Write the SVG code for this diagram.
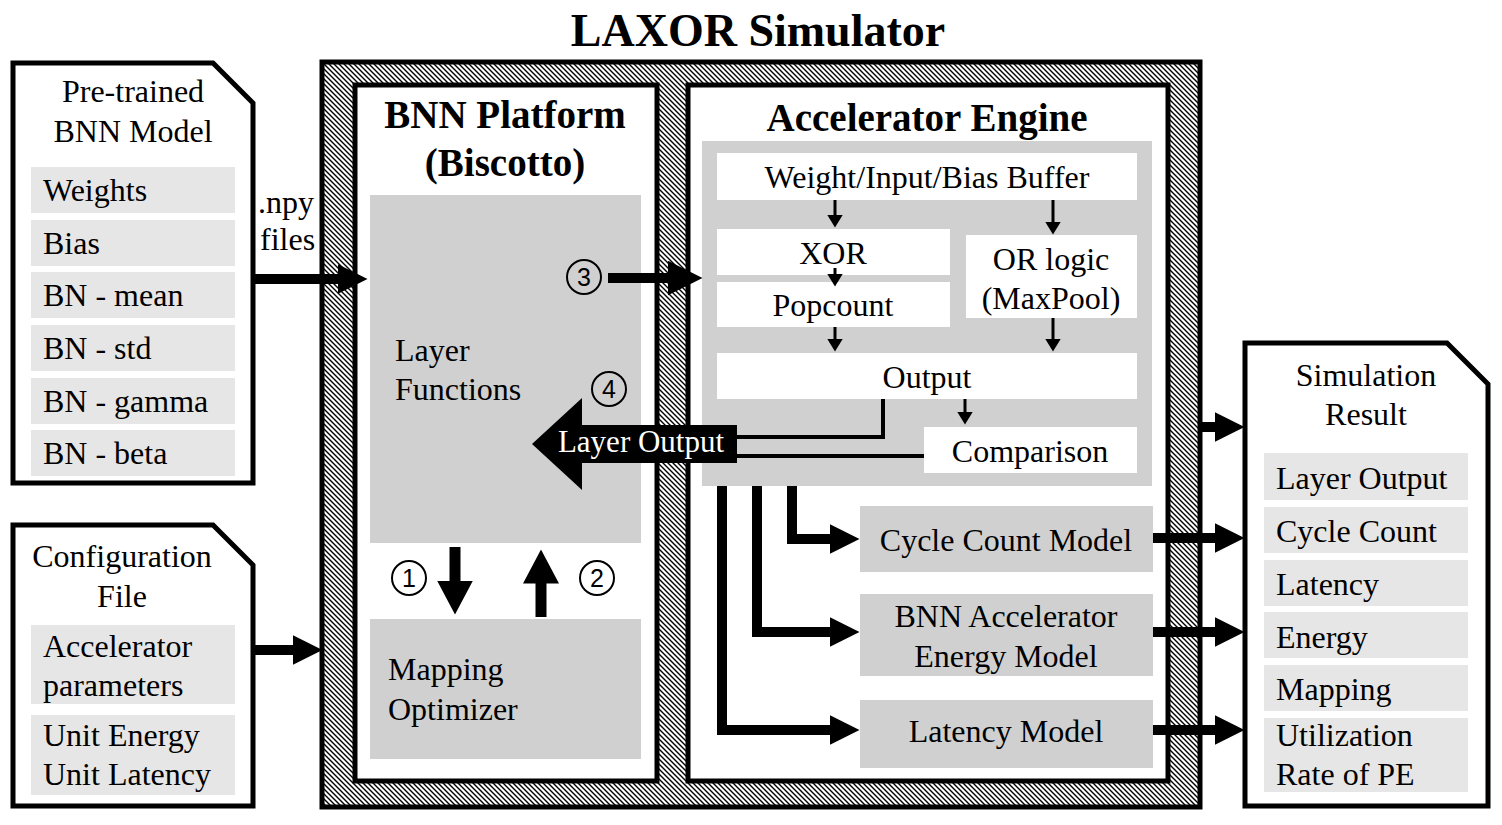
<svg xmlns="http://www.w3.org/2000/svg" width="1502" height="825" viewBox="0 0 1502 825">
<defs>
<pattern id="hatch" patternUnits="userSpaceOnUse" width="5" height="5">
<rect width="5" height="5" fill="#fff"/>
<path d="M-1,4 L1,6 M-1,-1 L6,6 M4,-1 L6,1" stroke="#000" stroke-width="1.4"/>
</pattern>
<marker id="ah" viewBox="0 0 30 30" markerWidth="30" markerHeight="30" refX="0.5" refY="15" orient="auto" markerUnits="userSpaceOnUse"><path d="M0,0 L30,15 L0,30 z" fill="#000"/></marker>
<marker id="ahL" viewBox="0 0 35 35" markerWidth="35" markerHeight="35" refX="0.5" refY="17.5" orient="auto" markerUnits="userSpaceOnUse"><path d="M0,0 L35,17.5 L0,35 z" fill="#000"/></marker>
<marker id="ahm" viewBox="0 0 34 36" markerWidth="34" markerHeight="36" refX="0.5" refY="18" orient="auto" markerUnits="userSpaceOnUse"><path d="M0,0 L34,18 L0,36 z" fill="#000"/></marker>
<marker id="ahs" viewBox="0 0 13 16" markerWidth="13" markerHeight="16" refX="0.5" refY="8" orient="auto" markerUnits="userSpaceOnUse"><path d="M0,0 L13,8 L0,16 z" fill="#000"/></marker>
</defs>
<style>
text{font-family:"Liberation Serif","Times New Roman",serif;fill:#000}
.t{font-size:32px}
.b{font-size:39px;font-weight:bold}
.c{text-anchor:middle}
.doc{fill:#fff;stroke:#000;stroke-width:5}
.row{fill:#e6e6e6}
.gb{fill:#d0d0d0}
.wb{fill:#fff}
.num{font-family:"Liberation Sans",Arial,sans-serif;font-size:25px;text-anchor:middle}
.circ{fill:none;stroke:#000;stroke-width:2}
.big{fill:none;stroke:#000;stroke-width:10}
.sm{fill:none;stroke:#000;stroke-width:3}
.ln{fill:none;stroke:#000;stroke-width:4}
</style>

<text x="758" y="46" class="c" style="font-size:46px;font-weight:bold">LAXOR Simulator</text>

<g id="simulator-frame">
<rect x="322" y="62" width="878" height="745" fill="url(#hatch)" stroke="#000" stroke-width="5"/>
</g>

<g id="bnn-platform">
<rect x="355" y="85" width="302" height="696" fill="#fff" stroke="#000" stroke-width="5"/>
<text x="505" y="128" class="b c">BNN Platform</text>
<text x="505" y="176" class="b c">(Biscotto)</text>
</g>

<g id="layer-functions">
<rect x="370" y="195" width="271" height="348" class="gb"/>
<text x="395" y="361" class="t">Layer</text>
<text x="395" y="400" class="t">Functions</text>
</g>

<g id="mapping-optimizer">
<rect x="370" y="619" width="271" height="140" class="gb"/>
<text x="388" y="680" class="t">Mapping</text>
<text x="388" y="720" class="t">Optimizer</text>
</g>

<g id="accelerator-engine">
<rect x="688" y="85" width="480" height="696" fill="#fff" stroke="#000" stroke-width="5"/>
<text x="927" y="131" class="b c">Accelerator Engine</text>
<rect x="702" y="141" width="450" height="345" class="gb"/>
</g>

<g id="buffer">
<rect x="717" y="153" width="420" height="47" class="wb"/>
<text x="927" y="188" class="t c">Weight/Input/Bias Buffer</text>
</g>
<g id="xor">
<rect x="717" y="229" width="233" height="46" class="wb"/>
<text x="833" y="264" class="t c">XOR</text>
</g>
<g id="popcount">
<rect x="717" y="282" width="233" height="45" class="wb"/>
<text x="833" y="316" class="t c">Popcount</text>
</g>
<g id="or-logic">
<rect x="966" y="235" width="171" height="83" class="wb"/>
<text x="1051" y="270" class="t c">OR logic</text>
<text x="1051" y="309" class="t c">(MaxPool)</text>
</g>
<g id="output">
<rect x="717" y="353" width="420" height="46" class="wb"/>
<text x="927" y="388" class="t c">Output</text>
</g>
<g id="comparison">
<rect x="924" y="427" width="213" height="46" class="wb"/>
<text x="1030" y="462" class="t c">Comparison</text>
</g>

<g id="cycle-count-model">
<rect x="860" y="506" width="293" height="66" class="gb"/>
<text x="1006" y="551" class="t c">Cycle Count Model</text>
</g>
<g id="energy-model">
<rect x="860" y="594" width="293" height="82" class="gb"/>
<text x="1006" y="627" class="t c">BNN Accelerator</text>
<text x="1006" y="667" class="t c">Energy Model</text>
</g>
<g id="latency-model">
<rect x="860" y="700" width="293" height="68" class="gb"/>
<text x="1006" y="742" class="t c">Latency Model</text>
</g>

<g id="pretrained-model">
<polygon points="13,63 213,63 253,103 253,483 13,483" class="doc"/>
<text x="133" y="102" class="t c">Pre-trained</text>
<text x="133" y="142" class="t c">BNN Model</text>
<rect x="31" y="167" width="204" height="46" class="row"/>
<rect x="31" y="220" width="204" height="46" class="row"/>
<rect x="31" y="272" width="204" height="46" class="row"/>
<rect x="31" y="325" width="204" height="46" class="row"/>
<rect x="31" y="378" width="204" height="46" class="row"/>
<rect x="31" y="430" width="204" height="46" class="row"/>
<text x="43" y="201" class="t">Weights</text>
<text x="43" y="254" class="t">Bias</text>
<text x="43" y="306" class="t">BN - mean</text>
<text x="43" y="359" class="t">BN - std</text>
<text x="43" y="412" class="t">BN - gamma</text>
<text x="43" y="464" class="t">BN - beta</text>
</g>

<g id="configuration-file">
<polygon points="13,525 213,525 253,565 253,806 13,806" class="doc"/>
<text x="122" y="567" class="t c">Configuration</text>
<text x="122" y="607" class="t c">File</text>
<rect x="31" y="625" width="204" height="79" class="row"/>
<rect x="31" y="715" width="204" height="80" class="row"/>
<text x="43" y="657" class="t">Accelerator</text>
<text x="43" y="696" class="t">parameters</text>
<text x="43" y="746" class="t">Unit Energy</text>
<text x="43" y="785" class="t">Unit Latency</text>
</g>

<g id="simulation-result">
<polygon points="1245,343 1447,343 1488,384 1488,806 1245,806" class="doc"/>
<text x="1366" y="386" class="t c">Simulation</text>
<text x="1366" y="425" class="t c">Result</text>
<rect x="1264" y="453" width="204" height="47" class="row"/>
<rect x="1264" y="507" width="204" height="46" class="row"/>
<rect x="1264" y="560" width="204" height="46" class="row"/>
<rect x="1264" y="612" width="204" height="46" class="row"/>
<rect x="1264" y="665" width="204" height="46" class="row"/>
<rect x="1264" y="718" width="204" height="74" class="row"/>
<text x="1276" y="489" class="t">Layer Output</text>
<text x="1276" y="542" class="t">Cycle Count</text>
<text x="1276" y="595" class="t">Latency</text>
<text x="1276" y="648" class="t">Energy</text>
<text x="1276" y="700" class="t">Mapping</text>
<text x="1276" y="746" class="t">Utilization</text>
<text x="1276" y="785" class="t">Rate of PE</text>
</g>

<g id="connectors">
<text x="258" y="213" class="t">.npy</text>
<text x="260" y="250" class="t">files</text>
<path d="M253,279 H338" class="big" marker-end="url(#ah)"/>
<path d="M253,650 H293" class="big" marker-end="url(#ah)"/>
<path d="M608,278 H668" class="big" marker-end="url(#ahL)"/>
<path d="M455,547 V581" stroke="#000" stroke-width="11" fill="none" marker-end="url(#ahm)"/>
<path d="M541,617 V583" stroke="#000" stroke-width="11" fill="none" marker-end="url(#ahm)"/>

<path d="M835,200 V215" class="sm" marker-end="url(#ahs)"/>
<path d="M835,268 V274" class="sm" marker-end="url(#ahs)"/>
<path d="M835,327 V339" class="sm" marker-end="url(#ahs)"/>
<path d="M1053,200 V222" class="sm" marker-end="url(#ahs)"/>
<path d="M1053,318 V339" class="sm" marker-end="url(#ahs)"/>
<path d="M965,399 V412" class="sm" marker-end="url(#ahs)"/>

<path d="M883,399 V437 H730" class="ln"/>
<path d="M924,456 H730" class="ln"/>
<polygon points="532,444 582,398 582,425 737,425 737,463 582,463 582,490"/>
<text x="641" y="452" class="c" style="font-size:31px;fill:#fff">Layer Output</text>

<path d="M792,486 V539 H830" class="big" stroke-linejoin="miter" marker-end="url(#ah)"/>
<path d="M757,486 V632 H830" class="big" marker-end="url(#ah)"/>
<path d="M722,486 V730 H830" class="big" marker-end="url(#ah)"/>

<path d="M1200,427 H1215" class="big" marker-end="url(#ah)"/>
<path d="M1153,538 H1215" class="big" marker-end="url(#ah)"/>
<path d="M1153,632 H1215" class="big" marker-end="url(#ah)"/>
<path d="M1153,730 H1215" class="big" marker-end="url(#ah)"/>

<circle cx="409" cy="578" r="17" class="circ"/><text x="409" y="587" class="num">1</text>
<circle cx="597" cy="578" r="17" class="circ"/><text x="597" y="587" class="num">2</text>
<circle cx="584" cy="277" r="17" class="circ"/><text x="584" y="286" class="num">3</text>
<circle cx="609" cy="389" r="17" class="circ"/><text x="609" y="398" class="num">4</text>
</g>
</svg>
